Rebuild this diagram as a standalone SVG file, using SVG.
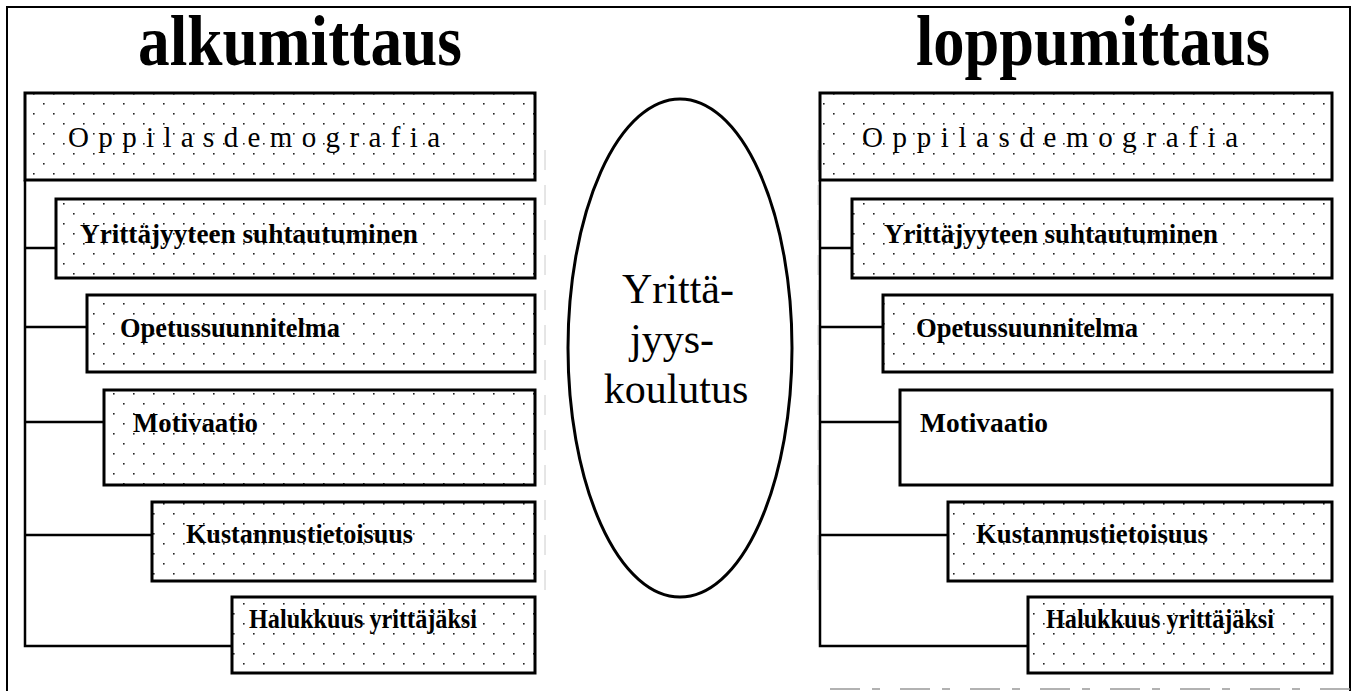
<svg xmlns="http://www.w3.org/2000/svg" width="1358" height="691" viewBox="0 0 1358 691">
<defs>
<pattern id="dots" width="20" height="20" patternUnits="userSpaceOnUse">
<rect x="3" y="3" width="1.6" height="1.6" fill="#222"/>
<rect x="13" y="13" width="1.6" height="1.6" fill="#222"/>
</pattern>
<style>
.box{fill:url(#dots);stroke:#000;stroke-width:3}
.plain{fill:#fff;stroke:#000;stroke-width:3}
.lbl{font-family:"Liberation Serif","Times New Roman",serif;font-weight:bold;font-size:27px;fill:#000}
.demo{font-family:"Liberation Serif","Times New Roman",serif;font-size:29px;fill:#000}
.title{font-family:"Liberation Serif","Times New Roman",serif;font-weight:bold;font-size:72px;fill:#000}
.mid{font-family:"Liberation Serif","Times New Roman",serif;font-size:42px;fill:#000}
.conn{fill:none;stroke:#000;stroke-width:2.5}
</style>
</defs>
<rect width="1358" height="691" fill="#fff"/>
<g id="frame">
<path d="M7 691 V7 H1350 V691" fill="none" stroke="#000" stroke-width="2"/>
<path d="M830 689 H1358" fill="none" stroke="#999" stroke-width="1.5" stroke-dasharray="30 12 8 20"/>
<path d="M545 150 V600" fill="none" stroke="#ccc" stroke-width="1" stroke-dasharray="20 15"/>
<path d="M818 150 V600" fill="none" stroke="#ccc" stroke-width="1" stroke-dasharray="20 15"/>
</g>
<text class="title" x="138" y="65" textLength="324" lengthAdjust="spacingAndGlyphs">alkumittaus</text>
<text class="title" x="916" y="65" textLength="354" lengthAdjust="spacingAndGlyphs">loppumittaus</text>
<g id="connectors">
<path class="conn" d="M25 180 V646 H232 M25 248 H56 M25 327 H87 M25 422 H104 M25 535 H152"/>
<path class="conn" d="M820 180 V646 H1028 M820 248 H852 M820 327 H883 M820 422 H900 M820 535 H948"/>
</g>
<g id="L-demo"><rect class="box" x="25" y="93" width="510" height="87"/><text class="demo" x="68" y="147" textLength="372" lengthAdjust="spacing">Oppilasdemografia</text></g>
<g id="L-yritt"><rect class="box" x="56" y="199" width="479" height="79"/><text class="lbl" x="80" y="243" textLength="338" lengthAdjust="spacingAndGlyphs">Yrittäjyyteen suhtautuminen</text></g>
<g id="L-opetus"><rect class="box" x="87" y="295" width="448" height="77"/><text class="lbl" x="120" y="337" textLength="220" lengthAdjust="spacingAndGlyphs">Opetussuunnitelma</text></g>
<g id="L-motiv"><rect class="box" x="104" y="390" width="431" height="95"/><text class="lbl" x="133" y="432" textLength="125" lengthAdjust="spacingAndGlyphs">Motivaatio</text></g>
<g id="L-kust"><rect class="box" x="152" y="502" width="383" height="79"/><text class="lbl" x="186" y="543" textLength="227" lengthAdjust="spacingAndGlyphs">Kustannustietoisuus</text></g>
<g id="L-haluk"><rect class="box" x="232" y="597" width="303" height="76"/><text class="lbl" x="249" y="628" textLength="228" lengthAdjust="spacingAndGlyphs">Halukkuus yrittäjäksi</text></g>
<g id="center"><ellipse cx="680" cy="348" rx="112" ry="249" fill="#fff" stroke="#000" stroke-width="3"/>
<text class="mid" x="678" y="303" text-anchor="middle">Yrittä-</text>
<text class="mid" x="672" y="353" text-anchor="middle">jyys-</text>
<text class="mid" x="676" y="403" text-anchor="middle">koulutus</text></g>
<g id="R-demo"><rect class="box" x="820" y="93" width="512" height="87"/><text class="demo" x="862" y="147" textLength="376" lengthAdjust="spacing">Oppilasdemografia</text></g>
<g id="R-yritt"><rect class="box" x="852" y="199" width="480" height="79"/><text class="lbl" x="884" y="243" textLength="334" lengthAdjust="spacingAndGlyphs">Yrittäjyyteen suhtautuminen</text></g>
<g id="R-opetus"><rect class="box" x="883" y="295" width="449" height="77"/><text class="lbl" x="916" y="337" textLength="222" lengthAdjust="spacingAndGlyphs">Opetussuunnitelma</text></g>
<g id="R-motiv"><rect class="plain" x="900" y="390" width="432" height="95"/><text class="lbl" x="920" y="432" textLength="128" lengthAdjust="spacingAndGlyphs">Motivaatio</text></g>
<g id="R-kust"><rect class="box" x="948" y="502" width="384" height="79"/><text class="lbl" x="976" y="543" textLength="232" lengthAdjust="spacingAndGlyphs">Kustannustietoisuus</text></g>
<g id="R-haluk"><rect class="box" x="1028" y="597" width="304" height="76"/><text class="lbl" x="1046" y="628" textLength="228" lengthAdjust="spacingAndGlyphs">Halukkuus yrittäjäksi</text></g>
</svg>
